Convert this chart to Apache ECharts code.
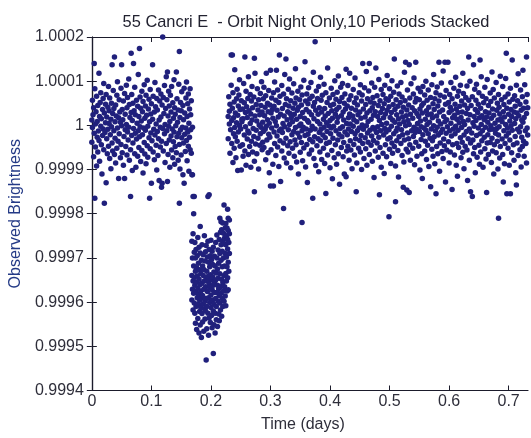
<!DOCTYPE html>
<html><head><meta charset="utf-8">
<script src="https://cdn.jsdelivr.net/npm/echarts@6/dist/echarts.min.js"></script>
<style>html,body{margin:0;padding:0;background:#fff}#c{width:531px;height:438px}</style>
</head><body><div id="c"></div>
<script>
// Each point: [time in thousandths of a day, brightness deviation from 1 in ppm]
const preTransit = [
[0,12],[0,-38],[1,57],[1,-5],[2,24],[3,-71],[3,40],[4,140],[4,-18],[5,83],[5,-165],[6,-49],[6,3],[7,31],[8,-92],[8,66],[9,-27],[9,9],
[10,-60],[10,45],[11,-13],[12,118],[12,-34],[13,20],[13,-81],[14,52],[15,-2],[15,74],[16,-44],[16,15],[17,-110],[18,36],[18,-23],[19,61],[19,-8],
[20,95],[20,-55],[21,-176],[21,28],[22,-16],[23,48],[23,6],[24,-130],[24,70],[25,-30],[25,19],[26,-64],[27,41],[27,-9],[28,88],[28,-47],[29,4],[29,33],
[30,-75],[30,62],[31,-21],[32,14],[32,-98],[33,50],[33,-3],[34,137],[34,-40],[35,27],[35,-58],[36,79],[37,-12],[37,38],[38,155],[38,-66],[39,8],[39,-29],
[40,46],[40,-85],[41,21],[42,-52],[42,68],[43,-6],[43,99],[44,-36],[45,17],[45,-120],[46,58],[46,-19],[47,30],[48,-73],[48,7],[49,84],[49,-43],
[50,137],[50,-1],[51,-62],[51,36],[52,13],[53,-90],[53,55],[54,-25],[55,-120],[55,72],[56,-10],[56,25],[57,-48],[58,91],[58,2],[59,-67],[59,40],
[60,-15],[60,63],[61,-33],[62,105],[62,-4],[63,47],[63,-79],[64,18],[65,-55],[65,-161],[66,163],[66,29],[67,-23],[67,70],[68,-102],[68,11],[69,50],[69,-40],
[70,140],[70,-7],[71,33],[72,-64],[72,86],[73,-18],[73,24],[74,-95],[75,57],[75,-31],[76,5],[77,-70],[77,43],[78,-12],[78,115],[79,-50],[79,20],
[80,174],[80,-26],[81,64],[81,-3],[82,-82],[82,39],[83,10],[84,-57],[84,77],[85,-21],[85,31],[86,-108],[86,54],[87,-6],[88,92],[88,-39],[89,16],[89,-65],
[90,44],[90,-11],[91,-87],[91,68],[92,23],[93,-46],[93,102],[94,-2],[94,-72],[95,37],[96,-28],[96,59],[97,-165],[97,8],[98,-53],[98,81],[99,-17],[99,26],
[100,-131],[100,49],[101,-35],[102,137],[102,14],[103,-60],[103,66],[104,-9],[105,30],[105,-78],[106,97],[106,-22],[107,42],[108,-45],[108,3],[109,-101],[109,61],
[110,-14],[110,35],[111,-68],[112,80],[112,-30],[113,12],[113,-125],[114,55],[115,-4],[115,-49],[116,71],[116,19],[117,-140],[117,-36],[118,-131],[118,46],[119,200],[119,-7],
[120,63],[120,-58],[121,27],[122,-19],[122,90],[123,-84],[123,2],[124,38],[125,-41],[125,110],[126,-12],[126,58],[127,-127],[127,121],[128,-66],[128,21],[129,-2],[129,77],
[130,-33],[130,44],[131,-95],[131,9],[132,68],[133,-24],[133,30],[134,-56],[134,88],[135,-8],[136,-73],[136,51],[137,16],[137,-37],[138,103],[138,-15],[139,40],[139,-88],
[140,-48],[140,25],[141,-1],[142,121],[142,-62],[143,60],[143,-26],[144,7],[145,-79],[145,35],[146,-18],[146,93],[147,167],[147,-176],[147,-43],[148,18],[148,-99],[149,52],[149,-10],
[150,33],[150,-67],[151,76],[151,-28],[152,-4],[153,45],[153,-112],[154,-40],[154,13],[155,-131],[155,84],[156,-20],[156,28],[157,-59],[158,62],[158,-6],[159,-34],[159,98],
[160,20],[160,-80],[161,49],[161,-15],[162,-47],[162,71],[163,5],[163,-104],[164,-27],[164,37],[165,83],[165,-55],[166,-10],[166,24],[167,-63],[167,56],[168,-112],[169,-4]
];
const transit = [
[168,-262],[168,-340],[168,-395],[169,-300],[169,-371],[169,-112],[170,-245],[170,-352],[170,-418],[170,-161],[171,-318],[171,-380],[171,-200],[172,-287],[172,-402],[172,-344],[172,-161],
[173,-265],[173,-362],[173,-425],[174,-330],[174,-448],[174,-300],[175,-376],[175,-410],[175,-281],[176,-355],[176,-462],[176,-322],[177,-295],[177,-390],[177,-341],[178,-437],[178,-368],[178,-254],
[179,-312],[179,-405],[179,-383],[180,-348],[180,-470],[180,-276],[181,-396],[181,-327],[181,-421],[182,-360],[182,-289],[182,-452],[182,-229],[183,-335],[183,-412],[183,-375],[184,-305],[184,-480],[184,-391],
[185,-357],[185,-426],[185,-270],[186,-385],[186,-318],[186,-445],[187,-340],[187,-404],[187,-293],[188,-466],[188,-371],[188,-326],[189,-352],[189,-415],[189,-250],[190,-398],[190,-307],[190,-438],
[191,-365],[191,-286],[191,-420],[192,-531],[192,-345],[192,-392],[192,-272],[193,-410],[193,-330],[193,-460],[194,-376],[194,-298],[194,-352],[195,-425],[195,-342],[195,-262],[195,-161],
[196,-390],[196,-310],[196,-475],[197,-358],[197,-436],[197,-281],[197,-157],[198,-320],[198,-401],[198,-367],[199,-446],[199,-338],[199,-295],[200,-384],[200,-260],[200,-412],
[201,-349],[201,-430],[201,-304],[202,-372],[202,-458],[202,-285],[203,-315],[203,-395],[203,-343],[204,-516],[204,-362],[204,-420],[204,-276],[205,-332],[205,-405],[205,-451],
[206,-378],[206,-296],[206,-356],[207,-425],[207,-318],[207,-470],[208,-350],[208,-265],[208,-392],[209,-410],[209,-334],[209,-440],[210,-300],[210,-378],[210,-248],
[211,-362],[211,-455],[211,-325],[212,-282],[212,-398],[212,-346],[213,-427],[213,-312],[213,-370],[214,-258],[214,-385],[214,-442],[215,-336],[215,-290],[215,-402],[215,-210],
[216,-365],[216,-242],[216,-418],[217,-305],[217,-380],[217,-270],[217,-218],[218,-348],[218,-432],[218,-236],[219,-392],[219,-285],[219,-320],[220,-356],[220,-262],[220,-410],[220,-221],
[221,-300],[221,-375],[221,-244],[222,-340],[222,-398],[222,-268],[222,-180],[223,-318],[223,-255],[223,-365],[224,-386],[224,-290],[224,-232],[225,-335],[225,-270],[225,-408],[225,-222],
[226,-298],[226,-352],[226,-250],[227,-375],[227,-232],[227,-320],[228,-280],[228,-345],[228,-258],[228,-190],[229,-310],[229,-238],[229,-372],[229,-210],[230,-265],[230,-330],[231,-290],[231,-245],[231,-214]
];
const postTransit = [
[229,20],[229,-30],[230,65],[231,3],[231,32],[232,-63],[232,48],[233,-10],[234,159],[234,91],[235,-41],[235,11],[236,159],[236,39],[237,-84],[237,74],[238,-19],[238,17],
[239,-52],[239,53],[240,-5],[240,126],[241,-26],[241,28],[242,-73],[243,60],[243,6],[244,82],[244,-36],[245,23],[245,-102],[246,44],[246,-15],[247,69],[248,0],[248,103],
[249,-47],[249,36],[250,-8],[251,-101],[251,56],[252,14],[252,8],[253,-44],[253,37],[254,-70],[254,15],[255,95],[256,-22],[256,51],[257,155],[257,-58],[258,29],[258,-3],
[259,77],[259,-90],[260,42],[261,-31],[261,18],[262,61],[262,-13],[263,110],[263,-66],[264,33],[264,-17],[265,-48],[266,70],[266,4],[267,-95],[267,26],[268,55],[268,-36],
[269,12],[269,88],[270,-60],[270,40],[271,-7],[272,-25],[272,64],[273,152],[273,-150],[273,-81],[274,21],[274,118],[275,-42],[276,-11],[276,47],[277,-64],[277,10],[278,83],
[279,-29],[279,35],[280,-99],[280,58],[281,1],[282,-45],[282,24],[283,72],[283,-19],[284,45],[284,-4],[285,99],[286,-55],[286,30],[287,7],[287,-38],[288,60],[288,-14],
[289,86],[289,-50],[290,22],[291,-9],[291,41],[292,-78],[292,67],[293,-2],[293,118],[294,-33],[295,50],[295,13],[296,-62],[296,31],[297,-20],[297,79],[298,5],[298,-107],
[299,46],[299,-27],[300,125],[300,-137],[301,28],[301,-55],[302,62],[302,-6],[303,36],[304,-88],[304,16],[305,-137],[305,74],[306,-15],[306,43],[307,-41],[307,98],[308,9],
[309,-68],[309,57],[310,125],[310,-1],[311,-24],[311,34],[312,80],[312,-49],[313,19],[314,-93],[314,52],[315,159],[315,-12],[316,66],[316,-35],[317,-127],[317,25],[318,-8],
[319,90],[319,-58],[320,38],[320,-16],[321,4],[322,-188],[322,71],[322,-40],[323,21],[323,-74],[324,115],[324,-3],[325,47],[326,-29],[326,150],[327,60],[327,-85],[328,13],
[329,-46],[329,31],[330,82],[330,-10],[331,-63],[331,44],[332,2],[332,105],[333,-37],[333,27],[334,-96],[334,56],[335,18],[336,-21],[336,73],[337,-52],[337,8],[338,39],
[339,-14],[339,94],[340,-70],[340,25],[341,50],[341,-33],[342,-5],[342,128],[343,-44],[343,62],[344,14],[344,-83],[345,34],[346,-18],[346,77],[347,-110],[347,41],[348,-1],
[349,58],[349,-27],[350,20],[350,-61],[351,87],[351,3],[352,-39],[352,46],[353,-220],[353,-12],[353,69],[354,-80],[354,29],[355,-4],[356,102],[356,-51],[357,16],[358,144],[358,-23],
[359,55],[359,-94],[360,36],[360,-8],[361,71],[361,-43],[362,11],[362,-129],[363,49],[363,-20],[364,85],[364,7],[365,-65],[365,30],[366,-32],[366,60],[367,-11],[368,97],
[369,-56],[369,24],[370,-2],[370,66],[371,-165],[371,-37],[372,43],[372,120],[373,-75],[373,15],[374,52],[374,-26],[375,189],[375,-8],[376,34],[376,-91],[377,78],[378,-46],
[379,9],[379,61],[380,-30],[380,25],[381,-105],[381,88],[382,-16],[382,40],[383,-60],[383,3],[384,109],[384,-35],[385,57],[385,-9],[386,-77],[386,30],[387,68],[388,-22],
[389,14],[389,-52],[390,93],[390,-4],[391,38],[391,-86],[392,21],[392,-28],[393,-154],[393,74],[394,-41],[394,6],[395,52],[395,-14],[396,130],[396,-67],[397,27],[398,-1],
[399,-38],[399,62],[400,11],[400,-96],[401,45],[401,-19],[402,84],[402,-6],[403,-57],[403,33],[404,16],[404,-121],[405,70],[405,-29],[406,-2],[406,48],[407,-73],[408,101],
[409,25],[409,-44],[410,-12],[410,59],[411,-88],[411,36],[412,7],[412,75],[413,-33],[413,18],[414,-64],[414,112],[415,-20],[415,41],[416,-133],[416,54],[417,-7],[418,86],
[419,-50],[419,22],[420,63],[420,-26],[421,-3],[421,95],[422,-71],[422,30],[423,12],[423,-39],[424,50],[424,-110],[425,-15],[425,71],[426,37],[427,127],[427,-116],[428,-58],[428,4],
[429,44],[429,-21],[430,90],[430,-47],[431,17],[431,-8],[432,58],[432,-79],[433,26],[433,118],[434,-35],[434,3],[435,67],[435,-56],[436,-14],[436,39],[437,-98],[438,21],
[439,-2],[439,81],[440,-43],[440,13],[441,52],[441,-67],[442,107],[442,-19],[443,35],[443,-30],[444,-150],[444,62],[445,8],[445,-85],[446,46],[446,-12],[447,24],[448,-52],
[449,74],[449,-6],[450,-34],[450,30],[451,92],[451,-60],[452,16],[452,-23],[453,55],[453,-100],[454,1],[454,69],[455,140],[455,-41],[456,-9],[456,37],[457,-75],[458,85],
[459,-28],[459,19],[460,47],[460,-53],[461,-1],[461,122],[462,-90],[462,28],[463,60],[463,-17],[464,9],[464,-38],[465,78],[466,140],[466,-66],[467,33],[467,-11],[468,53],
[469,-45],[469,14],[470,96],[470,-24],[471,40],[471,-81],[472,-5],[472,63],[473,-34],[473,23],[474,-118],[474,50],[475,-9],[475,86],[476,-58],[476,31],[477,130],[478,-16],
[479,67],[479,-40],[480,20],[480,-3],[481,-72],[481,45],[482,104],[482,-27],[483,-157],[483,11],[484,56],[484,-50],[485,29],[485,-12],[486,81],[486,-95],[487,2],[488,38],
[489,-63],[489,70],[490,17],[490,-22],[491,49],[491,-109],[492,-7],[492,91],[493,-44],[493,26],[494,60],[494,-15],[495,5],[495,-71],[496,113],[496,34],[497,-31],[498,57],
[499,-207],[499,-10],[499,42],[500,-54],[500,83],[501,18],[501,-28],[502,-86],[502,66],[503,-2],[503,29],[504,-40],[504,101],[505,12],[505,-63],[506,47],[507,-19],[507,75],[508,150],[508,-48],
[509,7],[509,36],[510,-173],[510,-92],[511,58],[511,-13],[512,24],[512,-35],[513,89],[513,-6],[514,-57],[514,43],[515,15],[515,-117],[516,71],[516,-26],[517,3],[518,52],
[519,-41],[519,97],[520,-10],[520,30],[521,-68],[521,64],[522,19],[522,-21],[523,-140],[523,41],[524,8],[524,-83],[525,120],[525,-33],[526,56],[527,143],[527,-1],[528,-54],[528,22],
[529,-146],[529,35],[530,-17],[530,80],[531,-60],[531,11],[532,46],[532,-30],[533,137],[533,-152],[533,2],[534,62],[534,-44],[535,25],[535,-79],[536,94],[537,-12],[538,40],
[539,-52],[539,16],[540,71],[540,-25],[541,-4],[541,107],[542,-89],[542,33],[543,53],[543,-16],[544,143],[544,-38],[545,-8],[545,61],[546,-70],[546,27],[547,4],[548,84],
[549,-47],[549,20],[550,-14],[550,58],[551,-101],[551,37],[552,10],[552,76],[553,-32],[553,-3],[554,45],[554,-64],[555,28],[555,-120],[556,88],[556,-21],[557,50],[558,-6],
[559,-58],[559,69],[560,14],[560,-36],[561,100],[561,-11],[562,33],[562,-77],[563,57],[563,2],[564,-45],[564,24],[565,80],[565,-19],[566,-93],[566,41],[567,7],[568,-29],
[569,-139],[569,63],[570,-8],[570,26],[571,-54],[571,92],[572,17],[572,-35],[573,49],[573,-70],[574,-1],[574,115],[575,-26],[575,36],[576,60],[576,-87],[577,-13],[578,-155],[578,74],
[579,21],[579,-48],[580,87],[580,-4],[581,-64],[581,44],[582,10],[582,-22],[583,143],[583,55],[584,-104],[584,30],[585,-40],[585,68],[586,3],[586,-16],[587,96],[588,-59],
[589,35],[589,-9],[590,123],[590,-75],[591,20],[591,-31],[592,64],[592,-46],[593,8],[593,143],[594,-128],[594,48],[595,-18],[595,79],[596,-56],[596,13],[597,-3],[598,143],
[599,52],[599,-37],[600,-85],[600,29],[601,-12],[601,70],[602,41],[602,-60],[603,5],[603,97],[604,-24],[604,34],[605,-145],[605,60],[606,-44],[606,17],[607,-8],[608,84],
[609,-67],[609,23],[610,48],[610,-19],[611,109],[611,-2],[612,-90],[612,37],[613,14],[613,-41],[614,66],[614,-115],[615,29],[615,-11],[616,77],[616,-50],[617,6],[618,43],
[619,-28],[619,91],[620,-73],[620,18],[621,55],[621,-5],[622,-38],[622,30],[623,118],[623,-61],[624,9],[624,72],[625,-22],[625,-98],[626,46],[626,2],[627,-47],[628,63],
[629,-14],[629,27],[630,89],[630,-56],[631,-125],[631,38],[632,12],[632,-30],[633,155],[633,57],[634,-8],[634,-79],[635,24],[635,100],[636,-150],[636,-40],[637,45],[638,-17],
[639,-161],[639,65],[640,6],[640,-33],[641,137],[641,-64],[642,20],[642,-2],[643,82],[643,-50],[644,36],[644,-107],[645,11],[645,57],[646,-23],[646,93],[647,-72],[648,29],
[649,-6],[649,48],[650,-45],[650,74],[651,17],[651,-88],[652,148],[652,-19],[653,39],[653,-60],[654,2],[654,110],[655,-35],[655,22],[656,66],[656,-12],[657,-95],[658,51],
[659,-27],[659,13],[660,86],[660,-53],[661,31],[661,-4],[662,-76],[662,60],[663,-152],[663,19],[664,-40],[664,104],[665,7],[665,-21],[666,45],[666,-66],[667,28],[668,-10],
[669,73],[669,-39],[670,-1],[670,54],[671,-84],[671,16],[672,121],[672,-29],[673,37],[673,-58],[674,-9],[674,81],[675,23],[675,-110],[676,-44],[676,62],[677,5],[678,-18],
[679,97],[679,-62],[680,34],[680,-7],[681,-36],[681,50],[682,12],[682,-99],[683,-210],[683,70],[683,-22],[684,41],[684,-3],[685,-74],[685,26],[686,111],[686,-48],[687,15],[688,58],
[689,-31],[689,8],[690,-66],[690,88],[691,-128],[691,31],[692,-12],[692,47],[693,-87],[693,19],[694,64],[694,-41],[695,2],[695,106],[696,163],[696,-24],[697,-155],[697,39],[698,-6],
[699,71],[699,-52],[700,25],[700,-17],[701,-90],[701,53],[702,10],[702,-33],[703,-155],[703,84],[704,-1],[704,36],[705,-62],[705,20],[706,148],[706,-11],[707,59],[708,-44],
[709,30],[709,-79],[710,4],[710,67],[711,-25],[711,43],[712,-107],[712,15],[713,-135],[713,91],[714,-40],[714,28],[715,-9],[715,56],[716,117],[716,-68],[717,22],[718,-15],
[719,48],[719,-55],[720,-3],[720,80],[721,34],[721,-94],[722,12],[722,-27],[723,65],[723,-48],[724,7],[724,125],[725,-36],[725,39],[726,-70],[726,18],[727,92],[728,-12],
[729,53],[729,-41],[730,155],[730,27],[730,-85],[731,-6],[731,70],[732,-22],[732,40]
];
const xTicks = [0, 0.1, 0.2, 0.3, 0.4, 0.5, 0.6, 0.7];
const yTicks = [0.9994, 0.9995, 0.9996, 0.9997, 0.9998, 0.9999, 1.0, 1.0001, 1.0002];
const titleText = '55 Cancri E  - Orbit Night Only,10 Periods Stacked';
const xName = 'Time (days)';
const yName = 'Observed Brightness';

const toPoint = p => [p[0] / 1000, 1 + p[1] / 1e6];
const points = preTransit.concat(transit, postTransit).map(toPoint);

const FONT = "'Liberation Sans', Arial, Helvetica, sans-serif";
const AX = '#1b1b2b';
const LBL = '#2e2e3a';
const xMin = xTicks[0], xMax = 0.7325;
const yMin = yTicks[0], yMax = yTicks[yTicks.length - 1];
const fmtY = v => String(parseFloat(v.toFixed(4)));
const fmtX = v => String(parseFloat(v.toFixed(1)));

const chart = echarts.init(document.getElementById('c'), null, {renderer: 'canvas'});
chart.setOption({
  animation: false,
  backgroundColor: '#ffffff',
  title: {
    text: titleText, left: 301, top: 9, textAlign: 'center',
    textStyle: {fontFamily: FONT, fontSize: 16.4, fontWeight: 'normal', color: '#222230'}
  },
  grid: {left: 90, right: 3, top: 37, bottom: 47.5, containLabel: false, show: false},
  xAxis: [{
    type: 'value', min: xMin, max: xMax, interval: 0.1, position: 'bottom',
    axisLine: {show: true, lineStyle: {color: AX, width: 1.2}},
    axisTick: {show: true, inside: true, length: 5, lineStyle: {color: AX}},
    axisLabel: {show: true, margin: 3, formatter: fmtX, showMaxLabel: false, fontFamily: FONT, fontSize: 16, color: LBL},
    splitLine: {show: false},
    name: xName, nameLocation: 'middle', nameGap: 26,
    nameTextStyle: {fontFamily: FONT, fontSize: 16, color: LBL, padding: [0, 14, 0, 0]}
  }, {
    type: 'value', min: xMin, max: xMax, interval: 0.1, position: 'top',
    axisLine: {show: true, lineStyle: {color: AX, width: 1.2}},
    axisTick: {show: true, inside: true, length: 5, lineStyle: {color: AX}},
    axisLabel: {show: false}, splitLine: {show: false}
  }],
  yAxis: [{
    type: 'value', min: yMin, max: yMax, interval: 0.0001, position: 'left',
    axisLine: {show: true, lineStyle: {color: AX, width: 1.2}},
    axisTick: {show: true, inside: true, length: 5, lineStyle: {color: AX}},
    axisLabel: {show: true, margin: 8, formatter: fmtY, fontFamily: FONT, fontSize: 16, color: LBL},
    splitLine: {show: false},
    name: yName, nameLocation: 'middle', nameGap: 63,
    nameTextStyle: {fontFamily: FONT, fontSize: 16, color: '#243a86'}
  }, {
    type: 'value', min: yMin, max: yMax, interval: 0.0001, position: 'right',
    axisLine: {show: true, lineStyle: {color: AX, width: 1.2}},
    axisTick: {show: true, inside: true, length: 5, lineStyle: {color: AX}},
    axisLabel: {show: false}, splitLine: {show: false}
  }],
  series: [{
    type: 'scatter', xAxisIndex: 0, yAxisIndex: 0,
    data: points, symbol: 'circle', symbolSize: 5.5,
    itemStyle: {color: '#20207c', opacity: 1},
    emphasis: {disabled: true}
  }]
});
</script>
</body></html>
